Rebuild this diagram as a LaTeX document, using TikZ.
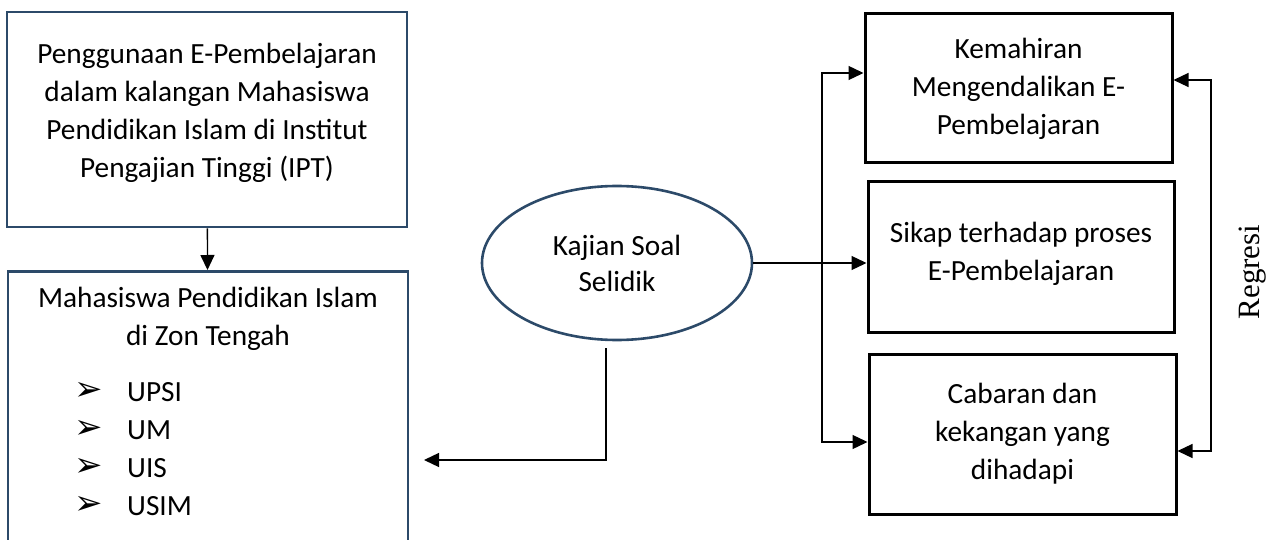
\documentclass[tikz,border=0pt]{standalone}
\usepackage{fontspec}
\setmainfont{Carlito}
\newfontfamily\regfont{Liberation Serif}
\newfontfamily\dingfont{DejaVu Sans}
\usetikzlibrary{arrows.meta,shapes.geometric,calc}
\definecolor{navy}{HTML}{2C4A69}
\tikzset{>={Triangle[length=15pt,width=14pt]},
every picture/.append style={
    x=1pt,y=-1pt
  },
bluebox/.style={draw=navy,line width=2.6pt,inner sep=0pt,align=center,font=\fontsize{29.3}{38}\selectfont},
blackbox/.style={draw,line width=3pt,inner sep=0pt,align=center,font=\fontsize{29.3}{38}\selectfont},
conn/.style={line width=1.3pt},
uni/.style={anchor=west,inner sep=0pt,font=\fontsize{29.3}{38}\selectfont,text height=0.62em,text depth=0pt}}

\begin{document}
\begin{tikzpicture}
        \useasboundingbox (0,0) rectangle (1280,540);
        \node [bluebox,minimum width=400,minimum height=215] (guna) at (207,119.5) {Penggunaan E-Pembelajaran\\dalam kalangan Mahasiswa\\Pendidikan Islam di Institut\\Pengajian Tinggi (IPT)\\[-19pt]};
        \node [bluebox,minimum width=400,minimum height=300,anchor=north] (zon) at (208,270) {};
        \node [align=center,font=\fontsize{29.3}{38}\selectfont] (zontitle) at (208,319) {Mahasiswa Pendidikan Islam\\di Zon Tengah};
        \foreach \u [count=\i] in {UPSI,UM,UIS,USIM} {
            \node [font=\dingfont\fontsize{34}{34}\selectfont,inner sep=0pt,text height=0.5em,text depth=0pt] (tick\i) at (89,{398+38*(\i-1)}) {➢};
            \node [uni] (uni\i) at (127,{398+38*(\i-1)}) {\u};
        }
        \node [ellipse,draw=navy,line width=2.6pt,minimum width=270,minimum height=154,inner sep=0pt,align=center,font=\fontsize{29.3}{36}\selectfont] (soal) at (617,263) {Kajian Soal\\Selidik};
        \node [blackbox,minimum width=307,minimum height=149] (mahir) at (1018.5,88.5) {Kemahiran\\Mengendalikan E-\\Pembelajaran};
        \node [blackbox,minimum width=306,minimum height=150] (sikap) at (1021,257) {Sikap terhadap proses\\E-Pembelajaran\\[-26pt]};
        \node [blackbox,minimum width=307,minimum height=160] (cabar) at (1022.5,434) {Cabaran dan\\kekangan yang\\dihadapi};
        \node [rotate=90,font=\regfont\fontsize{31}{31}\selectfont] (regresi) at (1253,272) {Regresi};
        \coordinate (bt) at (822,73);
        \coordinate (bb) at (822,442);
        \coordinate (rt) at (1211,80);
        \coordinate (rb) at (1211,451);
        \coordinate (sd) at (606,348);
        \coordinate (sc) at (606,460);
        \coordinate (tip) at (424,460);
        \draw [conn,->] (guna) -- (zon);
        \draw [conn,->] (soal.east) -- (soal.east -| sikap.west);
        \draw [conn,<->] (bt -| mahir.west) -- (bt) -- (bb) -- (bb -| cabar.west);
        \draw [conn,<->] (rt -| mahir.east) -- (rt) -- (rb) -- (rb -| cabar.east);
        \draw [conn,->] (sd) -- (sc) -- (tip);
    \end{tikzpicture}
\end{document}
